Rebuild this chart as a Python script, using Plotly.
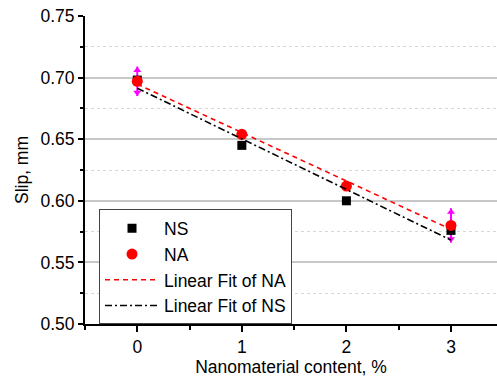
import numpy as np
import plotly.graph_objects as go

content = [0, 1, 2, 3]
ns_slip = [0.698, 0.645, 0.600, 0.576]
na_slip = [0.697, 0.654, 0.612, 0.580]
na_err = [0.012, 0.0, 0.0, 0.014]

x_ticks = [0, 1, 2, 3]
y_ticks = [0.50, 0.55, 0.60, 0.65, 0.70, 0.75]

FONT = "Liberation Sans, Arial, sans-serif"
FS = 17.5

na_fit = np.polyfit(content, na_slip, 1)
ns_fit = np.polyfit(content, ns_slip, 1)
xs = np.array([content[0], content[-1]])

fig = go.Figure()

# error bars (magenta) with arrow-like ends
fig.add_trace(go.Scatter(
    x=content, y=na_slip, mode="markers",
    marker=dict(size=0.1, color="rgba(0,0,0,0)"),
    error_y=dict(type="data", array=na_err, color="#ff00ff", thickness=2, width=0),
    showlegend=False, hoverinfo="skip"))
err_idx = [i for i, e in enumerate(na_err) if e > 0]
fig.add_trace(go.Scatter(
    x=[content[i] for i in err_idx], y=[na_slip[i] + na_err[i] - 0.003 for i in err_idx],
    mode="markers", marker=dict(symbol="triangle-up", size=7, color="#ff00ff"),
    showlegend=False, hoverinfo="skip"))
fig.add_trace(go.Scatter(
    x=[content[i] for i in err_idx], y=[na_slip[i] - na_err[i] + 0.003 for i in err_idx],
    mode="markers", marker=dict(symbol="triangle-down", size=7, color="#ff00ff"),
    showlegend=False, hoverinfo="skip"))

fig.add_trace(go.Scatter(
    x=content, y=ns_slip, mode="markers", name="NS",
    marker=dict(symbol="square", size=9, color="black")))
fig.add_trace(go.Scatter(
    x=content, y=na_slip, mode="markers", name="NA",
    marker=dict(symbol="circle", size=11, color="#ff0000")))
fig.add_trace(go.Scatter(
    x=xs, y=np.polyval(na_fit, xs), mode="lines", name="Linear Fit of NA",
    line=dict(color="#ff0000", width=1.6, dash="5px,4px")))
fig.add_trace(go.Scatter(
    x=xs, y=np.polyval(ns_fit, xs), mode="lines", name="Linear Fit of NS",
    line=dict(color="black", width=1.6, dash="7px,3px,2px,3px")))

fig.update_layout(
    width=497, height=383,
    margin=dict(l=85, r=0, t=16, b=59),
    paper_bgcolor="white", plot_bgcolor="white",
    font=dict(family=FONT, size=FS, color="black"),
    legend=dict(
        x=0.034, y=0.372, xanchor="left", yanchor="top",
        bgcolor="white", bordercolor="#444", borderwidth=1,
        font=dict(size=FS), itemwidth=54, tracegroupgap=0),
    xaxis=dict(
        range=[-0.5, 3.44], tickvals=x_ticks, ticktext=[str(v) for v in x_ticks],
        showline=True, linecolor="black", linewidth=2, automargin=False,
        ticks="outside", ticklen=6, tickwidth=1.5, tickcolor="black",
        showgrid=False, zeroline=False,
        minor=dict(dtick=0.5, tick0=0, ticks="outside", ticklen=4, tickwidth=1.5, tickcolor="black"),
        title=dict(text="Nanomaterial content, %", font=dict(size=FS), standoff=3),
        tickfont=dict(size=FS)),
    yaxis=dict(
        range=[0.5, 0.75], tickvals=y_ticks, ticktext=[f"{v:.2f}" for v in y_ticks],
        showline=True, linecolor="black", linewidth=2, automargin=False,
        ticks="outside", ticklen=5, tickwidth=1.5, tickcolor="black",
        showgrid=True, gridcolor="#c8c8c8", gridwidth=1.5, zeroline=False,
        minor=dict(dtick=0.025, tick0=0.5, ticks="outside", ticklen=3, tickwidth=1.5,
                   tickcolor="black", showgrid=True, gridcolor="#d8d8d8", griddash="dot", gridwidth=1),
        title=dict(text="Slip, mm", font=dict(size=FS), standoff=7),
        tickfont=dict(size=FS)),
)

fig.write_html("out.html", config={"displayModeBar": False},
               post_script="document.body.style.margin='0';document.body.style.padding='0';document.body.style.overflow='hidden';")
